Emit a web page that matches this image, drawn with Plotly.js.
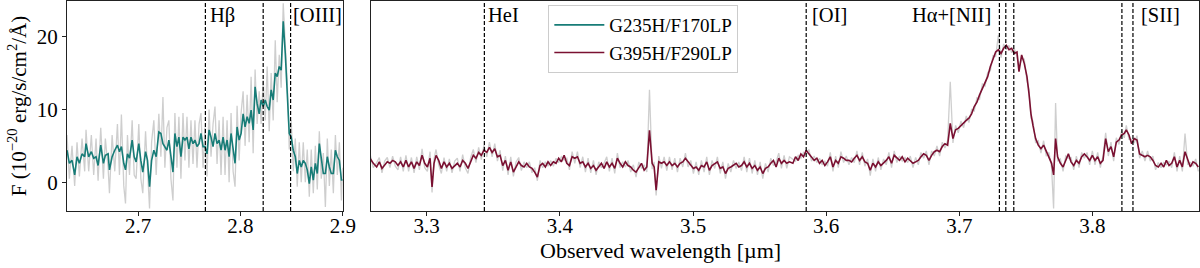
<!DOCTYPE html>
<html><head><meta charset="utf-8">
<script src="https://cdn.plot.ly/plotly-3.0.1.min.js"></script>
<style>html,body{margin:0;padding:0;background:#fff;font-family:'Liberation Serif',serif}#chart{width:1200px;height:268px}</style>
</head><body><div id="chart"></div>
<script>
// ---- G235H/F170LP (left panel) ----
const wlG235 = [2.6304,2.6327,2.6353,2.6379,2.6402,2.6425,2.6451,2.6477,2.6490,2.6516,2.6542,2.6565,2.6588,2.6608,2.6634,2.6660,2.6679,2.6706,2.6719,2.6745,2.6771,2.6797,2.6817,2.6836,2.6859,2.6876,2.6895,2.6915,2.6941,2.6961,2.6980,2.7006,2.7026,2.7045,2.7072,2.7091,2.7111,2.7131,2.7153,2.7176,2.7202,2.7222,2.7242,2.7261,2.7281,2.7300,2.7320,2.7340,2.7359,2.7379,2.7398,2.7418,2.7438,2.7457,2.7477,2.7496,2.7516,2.7536,2.7555,2.7575,2.7595,2.7614,2.7634,2.7653,2.7673,2.7693,2.7712,2.7732,2.7751,2.7771,2.7791,2.7810,2.7830,2.7849,2.7869,2.7889,2.7908,2.7928,2.7947,2.7967,2.7987,2.8006,2.8026,2.8045,2.8065,2.8085,2.8104,2.8124,2.8143,2.8163,2.8183,2.8202,2.8222,2.8242,2.8261,2.8281,2.8300,2.8320,2.8340,2.8359,2.8379,2.8398,2.8418,2.8438,2.8457,2.8477,2.8496,2.8516,2.8536,2.8555,2.8575,2.8594,2.8614,2.8634,2.8653,2.8673,2.8692,2.8712,2.8732,2.8751,2.8771,2.8790,2.8810,2.8830,2.8849,2.8869,2.8888,2.8908,2.8928,2.8947,2.8967,2.8987,2.9000];
const fluxG235 = [4.4,2.6,3.0,1.0,3.5,2.6,3.9,3.5,5.3,3.5,4.2,3.3,3.5,2.3,5.1,2.6,3.7,3.9,1.7,3.5,4.4,5.1,4.2,4.9,2.6,1.7,3.9,3.3,5.8,3.5,2.8,5.3,3.0,1.4,4.2,3.0,-0.6,3.0,4.4,3.5,6.9,6.7,5.3,4.9,4.4,5.8,3.5,1.4,6.7,4.9,6.2,3.5,6.2,5.8,6.2,4.6,6.2,5.3,5.8,4.9,5.3,6.7,4.9,4.9,3.9,7.2,6.2,4.9,6.7,5.3,5.8,4.4,6.2,4.4,5.8,3.5,6.7,4.9,2.6,7.6,5.8,6.7,9.4,7.6,9.0,8.1,9.9,7.2,13.1,10.8,9.4,11.3,10.4,11.3,10.4,9.9,12.7,11.3,15.0,14.5,15.9,15.4,22.1,17.7,11.3,6.7,6.2,4.4,3.5,1.2,3.0,2.1,3.0,2.6,1.7,-0.2,2.1,0.3,2.6,1.2,5.3,3.0,1.2,1.2,3.5,2.1,1.2,1.2,4.4,3.5,3.0,0.3,0.3];
const rawG235 = [6.5,0.5,5.0,-0.5,5.5,0.8,6.0,1.5,7.2,1.5,6.5,1.0,6.0,0.2,7.5,0.5,6.0,2.0,-1.5,6.5,1.5,8.0,1.0,9.3,-0.5,-2.9,6.5,1.0,8.5,1.0,0.5,8.0,0.5,-1.5,7.0,0.8,-3.6,5.5,8.5,1.0,9.4,3.5,11.7,2.0,7.5,8.5,0.5,-2.5,9.5,2.0,9.0,0.5,9.5,3.0,9.0,2.0,8.5,2.5,8.5,2.0,8.0,9.5,2.0,7.5,0.8,10.0,3.5,8.0,10.4,2.5,8.5,1.0,9.0,1.0,8.5,0.0,9.5,1.5,-0.6,10.5,3.0,9.5,12.5,5.0,12.0,5.5,14.5,4.0,15.5,8.0,12.5,8.0,14.0,8.5,15.9,7.0,15.0,8.5,19.5,11.0,17.5,13.0,24.6,19.0,14.0,4.5,8.5,1.5,6.0,-0.6,5.5,0.0,5.5,0.0,4.5,-2.0,4.5,-1.5,5.0,-1.0,7.0,0.5,4.0,-3.4,6.0,-0.5,4.5,-1.5,6.5,1.0,5.5,-2.5,2.0];

// ---- G395H/F290LP (right panel) ----
const wlG395 = [3.2574,3.2599,3.2624,3.2644,3.2664,3.2684,3.2704,3.2724,3.2744,3.2764,3.2784,3.2804,3.2824,3.2844,3.2864,3.2885,3.2905,3.2925,3.2945,3.2965,3.2985,3.3005,3.3025,3.3040,3.3055,3.3070,3.3090,3.3110,3.3130,3.3150,3.3170,3.3190,3.3210,3.3230,3.3250,3.3270,3.3290,3.3310,3.3330,3.3350,3.3370,3.3390,3.3410,3.3430,3.3451,3.3471,3.3491,3.3511,3.3531,3.3551,3.3571,3.3591,3.3611,3.3631,3.3651,3.3671,3.3691,3.3711,3.3731,3.3751,3.3771,3.3791,3.3811,3.3831,3.3851,3.3871,3.3891,3.3911,3.3931,3.3951,3.3971,3.3991,3.4011,3.4032,3.4052,3.4072,3.4092,3.4112,3.4132,3.4152,3.4172,3.4192,3.4212,3.4232,3.4252,3.4272,3.4292,3.4312,3.4332,3.4352,3.4372,3.4392,3.4412,3.4432,3.4452,3.4472,3.4492,3.4512,3.4532,3.4552,3.4572,3.4593,3.4613,3.4633,3.4653,3.4673,3.4693,3.4708,3.4723,3.4743,3.4763,3.4783,3.4803,3.4823,3.4843,3.4863,3.4883,3.4903,3.4923,3.4943,3.4963,3.4983,3.5003,3.5023,3.5043,3.5063,3.5083,3.5103,3.5123,3.5143,3.5163,3.5183,3.5204,3.5224,3.5244,3.5264,3.5284,3.5304,3.5324,3.5344,3.5364,3.5384,3.5404,3.5424,3.5444,3.5464,3.5484,3.5504,3.5524,3.5544,3.5564,3.5584,3.5604,3.5624,3.5644,3.5664,3.5684,3.5704,3.5724,
3.5750,3.5770,3.5790,3.5810,3.5830,3.5850,3.5870,3.5890,3.5910,3.5930,3.5950,3.5970,3.5990,3.6010,3.6031,3.6051,3.6071,3.6091,3.6111,3.6131,3.6151,3.6171,3.6191,3.6211,3.6231,3.6251,3.6271,3.6291,3.6311,3.6331,3.6351,3.6371,3.6391,3.6411,3.6431,3.6451,3.6471,3.6491,3.6511,3.6531,3.6551,3.6571,3.6592,3.6612,3.6632,3.6652,3.6672,3.6692,3.6712,3.6732,3.6752,3.6772,3.6792,3.6812,3.6832,3.6852,3.6872,3.6892,3.6912,3.6932,3.6952,3.6972,3.6992,3.7012,3.7032,3.7052,3.7072,3.7092,3.7112,3.7132,3.7152,3.7173,3.7193,3.7213,3.7233,3.7253,3.7273,3.7293,3.7313,3.7333,3.7353,3.7373,3.7393,3.7413,3.7433,3.7448,3.7468,3.7488,3.7508,3.7523,3.7538,3.7553,3.7573,3.7593,3.7613,3.7633,3.7653,3.7673,3.7693,3.7708,3.7723,3.7738,3.7759,3.7779,3.7799,3.7819,3.7839,3.7859,3.7879,3.7899,3.7919,3.7939,3.7959,3.7979,3.7999,3.8019,3.8039,3.8059,3.8079,3.8099,3.8119,3.8139,3.8159,3.8179,3.8199,3.8219,3.8239,3.8254,3.8274,3.8294,3.8314,3.8334,3.8354,3.8374,3.8394,3.8414,3.8434,3.8454,3.8474,3.8494,3.8515,3.8535,3.8555,3.8575,3.8595,3.8615,3.8635,3.8655,3.8675,3.8695,3.8715,3.8735,3.8755,3.8775,3.8795];
const fluxG395 = [3.3,2.6,2.1,2.8,1.9,2.3,2.8,2.6,3.0,2.8,2.3,2.8,2.1,3.0,2.1,2.8,1.9,2.8,2.3,3.7,2.6,2.1,3.3,-0.65,2.6,3.7,3.0,1.9,2.8,2.1,2.6,1.9,2.3,2.6,2.1,3.0,2.6,1.9,2.8,3.7,3.3,4.1,3.7,4.4,4.1,4.8,4.1,4.6,3.5,3.7,2.3,3.0,1.65,2.8,1.4,2.1,2.8,2.3,2.1,2.6,2.1,1.9,1.4,0.7,2.3,2.6,2.1,2.8,2.3,2.8,2.6,3.3,2.8,3.7,2.6,2.3,3.5,3.3,3.5,2.6,2.8,2.1,2.6,1.9,2.3,1.65,2.1,2.6,1.9,2.8,2.1,2.6,1.9,3.3,2.6,2.1,2.8,2.3,2.1,1.65,1.4,2.1,2.6,1.65,2.1,7.15,2.6,2.1,-1.1,2.8,2.6,2.8,2.3,2.8,2.3,2.6,2.1,2.6,2.8,3.3,2.8,2.3,1.9,2.1,1.65,2.3,2.1,2.8,1.65,2.3,2.6,2.8,1.9,2.1,1.2,1.9,2.1,2.3,2.6,2.1,2.3,2.8,2.1,2.6,1.9,2.3,1.65,2.1,1.2,1.9,2.1,2.6,3.0,2.1,3.3,2.6,3.0,2.6,2.8,
2.6,3.5,3.0,3.9,3.5,4.4,3.9,3.5,3.0,3.3,2.6,3.0,2.3,2.8,3.5,2.1,3.0,2.6,3.5,3.3,3.0,3.0,2.8,3.3,3.7,3.0,3.5,2.8,2.6,1.65,2.6,2.1,2.8,2.3,2.6,3.0,3.5,2.6,3.7,3.3,3.0,3.5,2.8,3.3,3.0,2.6,2.8,3.0,3.5,3.9,3.7,3.0,3.7,4.2,4.4,4.2,4.9,5.3,5.1,8.1,6.0,7.2,7.4,7.8,8.1,8.5,8.8,9.4,10.4,11.0,12.0,12.9,13.8,14.5,15.9,16.8,17.9,18.2,17.7,18.4,18.8,18.2,18.4,17.7,17.9,15.2,17.5,16.3,14.5,12.2,9.4,7.8,6.0,5.1,4.6,5.1,4.2,3.5,2.6,1.0,6.0,3.5,2.6,2.1,3.0,3.9,2.8,2.3,3.0,2.6,3.5,3.9,3.5,3.0,3.7,3.0,3.5,2.6,3.0,6.0,4.2,4.9,3.5,5.5,5.8,6.5,6.7,7.2,6.5,5.3,6.0,5.8,3.9,3.7,3.5,3.7,3.5,3.0,2.3,2.1,2.6,2.1,3.0,2.3,2.6,3.5,2.1,3.0,2.1,4.2,3.0,2.1,2.8,2.6,2.1];
const rawG395 = [3.9,2.0,2.7,3.4,1.3,2.9,3.4,2.0,3.6,2.2,1.7,3.5,1.5,3.7,1.5,3.4,1.3,3.5,1.7,4.6,2.0,1.5,4.2,-1.4,3.2,4.5,2.4,1.2,3.4,1.5,3.2,1.3,2.9,3.3,1.5,3.8,2.0,1.2,3.4,4.5,2.7,4.8,3.1,5.1,3.5,5.5,3.5,5.3,2.9,4.4,1.6,3.6,1.0,3.5,0.8,2.8,3.4,1.6,2.8,2.0,2.8,1.3,2.0,0.2,3.0,2.0,2.8,2.2,3.0,2.2,3.3,2.7,3.5,3.0,3.3,1.7,4.2,2.6,4.2,2.0,3.5,1.4,3.3,1.3,3.0,1.0,2.8,2.0,2.6,3.5,1.5,3.3,1.2,4.0,2.0,2.8,2.1,3.0,1.4,2.4,0.7,2.8,1.9,2.4,1.4,12.7,1.8,2.8,-1.8,3.6,1.9,3.5,1.6,3.5,1.7,3.3,1.4,3.3,2.1,4.0,2.1,3.0,1.2,2.8,1.0,3.0,1.4,3.5,1.0,3.0,1.9,3.5,1.2,2.8,0.5,2.6,1.4,3.0,1.9,2.8,1.6,3.5,1.4,3.3,1.2,3.0,1.0,2.8,0.5,2.6,1.4,3.3,2.3,2.8,4.0,1.9,3.7,1.9,3.5,
3.2,2.9,3.7,3.3,4.1,3.8,4.5,2.9,3.6,2.7,3.3,2.4,2.9,2.2,4.1,1.5,3.6,2.0,4.2,2.7,3.6,2.4,3.4,2.7,4.3,2.4,4.1,2.2,3.2,0.9,3.2,1.5,3.4,1.7,3.2,2.4,4.1,2.0,4.3,2.7,3.6,2.9,3.4,2.7,3.6,2.0,3.4,2.4,4.1,3.3,4.3,2.4,4.3,3.6,5.0,3.6,5.5,4.7,5.7,13.8,5.4,7.8,6.8,8.4,7.5,9.1,8.2,10.0,9.8,11.6,11.4,13.5,13.2,15.1,15.3,17.4,17.3,20.2,17.1,19.0,18.2,18.8,17.8,18.3,17.3,15.8,16.9,16.9,13.9,12.8,8.8,8.4,5.4,5.7,4.0,5.7,3.6,4.1,2.0,-3.6,10.9,2.9,3.2,1.5,3.6,3.3,3.4,1.7,3.6,2.0,4.1,3.3,4.1,2.4,4.3,2.4,4.1,2.0,3.6,6.8,3.6,5.5,2.9,6.1,5.2,7.1,6.1,7.8,5.9,5.9,5.4,6.4,3.3,4.3,2.9,4.3,2.9,3.6,1.7,2.7,2.0,2.7,2.4,2.9,2.0,4.1,1.5,3.6,1.5,6.7,2.4,2.7,2.2,3.2,1.5];

// ---- emission lines ----
const linesLeft = [2.7657, 2.8222, 2.8490];
const linesRight = [3.3433, 3.5850, 3.7301, 3.7349, 3.7409, 3.8221, 3.8304];
const labelNames = ['Hβ', '[OIII]', 'HeI', '[OI]', 'Hα+[NII]', '[SII]'];
const labelX = [2.7657, 2.8490, 3.3433, 3.5850, 3.7301, 3.8304];
const tickLeft = [2.7, 2.8, 2.9];
const tickRight = [3.3, 3.4, 3.5, 3.6, 3.7, 3.8];
const tickY = [0, 10, 20];
const seriesNames = ['G235H/F170LP', 'G395H/F290LP'];

const TEAL = '#177c77', MAROON = '#7a1031', GRAY = 'rgba(165,165,165,0.55)';
const FONT = "'Liberation Serif', 'DejaVu Serif', serif";

const traces = [
  {x: wlG235, y: rawG235, xaxis:'x', yaxis:'y', mode:'lines', line:{color:GRAY, width:1.3}, showlegend:false, hoverinfo:'skip'},
  {x: wlG395, y: rawG395, xaxis:'x2', yaxis:'y2', mode:'lines', line:{color:GRAY, width:1.3}, showlegend:false, hoverinfo:'skip'},
  {x: wlG235, y: fluxG235, xaxis:'x', yaxis:'y', mode:'lines', name: seriesNames[0], line:{color:TEAL, width:1.6}},
  {x: wlG395, y: fluxG395, xaxis:'x2', yaxis:'y2', mode:'lines', name: seriesNames[1], line:{color:MAROON, width:1.6}}
];

const shapes = [];
linesLeft.forEach(v => shapes.push({type:'line', xref:'x', yref:'y domain', x0:v, x1:v, y0:0, y1:1, line:{color:'black', width:1.2, dash:'4px,2px'}}));
linesRight.forEach(v => shapes.push({type:'line', xref:'x2', yref:'y2 domain', x0:v, x1:v, y0:0, y1:1, line:{color:'black', width:1.2, dash:'4px,2px'}}));

const labelAxis = ['x','x','x2','x2','x2','x2'];
const labelAnchor = ['left','left','left','left','right','left'];
const labelShift = [3, 0, 2, 4, -6, 6];
const annotations = labelNames.map((t,i) => ({
  text:t, x:labelX[i], xref:labelAxis[i], y:1, yref:'paper', xanchor:labelAnchor[i], yanchor:'top',
  xshift:labelShift[i], yshift:-1, showarrow:false, font:{family:FONT, size:20.5, color:'black'}
}));
annotations.push({text:'Observed wavelength [µm]', x:0.5247, xref:'paper', y:-0.187, yref:'paper',
  xanchor:'center', yanchor:'middle', showarrow:false, font:{family:FONT, size:22, color:'black'}});

const axisCommon = {showline:true, mirror:true, linecolor:'#222', linewidth:1, showgrid:false, zeroline:false,
  ticks:'outside', ticklen:4, tickcolor:'#222', tickfont:{family:FONT, size:21, color:'black'}};
const yRange = [-3.95, 24.9];

const layout = {
  width:1200, height:268, margin:{l:67, r:1, t:1, b:57},
  paper_bgcolor:'white', plot_bgcolor:'white',
  font:{family:FONT, color:'black'},
  xaxis: Object.assign({}, axisCommon, {domain:[0, 0.2436], range:[2.6304, 2.9], tickvals:tickLeft, ticktext:tickLeft.map(String), ticklabelstandoff:-8}),
  xaxis2: Object.assign({}, axisCommon, {domain:[0.2686, 1], range:[3.2582, 3.880], tickvals:tickRight, ticktext:tickRight.map(String), anchor:'y2', ticklabelstandoff:-8}),
  yaxis: Object.assign({}, axisCommon, {range:yRange, tickvals:tickY, ticktext:tickY.map(String),
    title:{text:'F (10<sup>−20</sup> erg/s/cm<sup>2</sup>/Å)', font:{family:FONT, size:21, color:'black'}, standoff:4}}),
  yaxis2: Object.assign({}, axisCommon, {range:yRange, anchor:'x2', showticklabels:false, ticks:''}),
  showlegend:true,
  legend:{x:0.4252, y:0.981, xanchor:'left', yanchor:'top', bgcolor:'rgba(255,255,255,0.85)', bordercolor:'#cccccc', borderwidth:1,
    font:{family:FONT, size:19, color:'black'}, itemwidth:50, tracegroupgap:0},
  shapes: shapes,
  annotations: annotations
};

Plotly.newPlot('chart', traces, layout, {displayModeBar:false, staticPlot:true});
</script>
</body></html>
